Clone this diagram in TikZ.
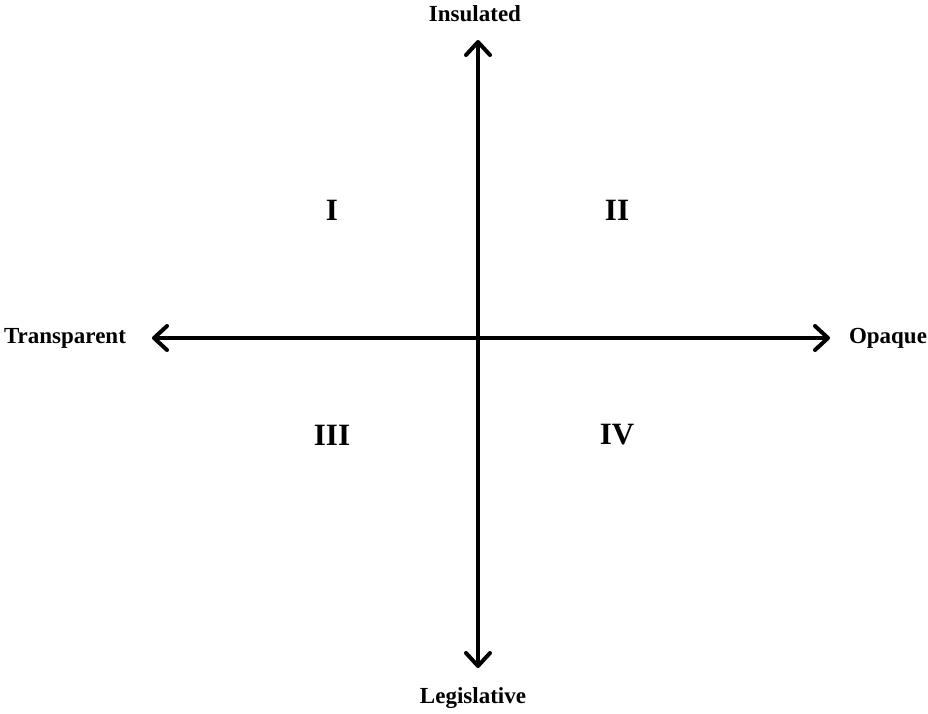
\documentclass[tikz,border=0pt]{standalone}
\usepackage{fontspec}
\setmainfont{Liberation Serif}
\usetikzlibrary{arrows.meta}
\begin{document}
\begin{tikzpicture}[x=1pt,y=-1pt,
  axis/.style={line width=4pt,{Straight Barb[length=13pt,width=24pt,line width=4pt,round]}-{Straight Barb[length=13pt,width=24pt,line width=4pt,round]}},
  lab/.style={font=\fontsize{23}{26}\selectfont\bfseries,inner sep=0pt},
  quad/.style={font=\fontsize{31}{34}\selectfont\bfseries,inner sep=0pt}]
\useasboundingbox (0,0) rectangle (928,713);
\coordinate (top) at (478,40);
\coordinate (bot) at (478,668);
\coordinate (left) at (152,338);
\coordinate (right) at (830,338);
\draw[axis] (top) -- (bot);
\draw[axis] (left) -- (right);
\node[lab] (ins) at (475,14) {Insulated};
\node[lab] (leg) at (473,698) {Legislative};
\node[lab] (tra) at (65,338) {Transparent};
\node[lab] (opa) at (888,338) {Opaque};
\node[quad] (q1) at (332,210) {I};
\node[quad] (q2) at (617,210) {II};
\node[quad] (q3) at (332,435) {III};
\node[quad] (q4) at (617,435) {IV};
\end{tikzpicture}
\end{document}
